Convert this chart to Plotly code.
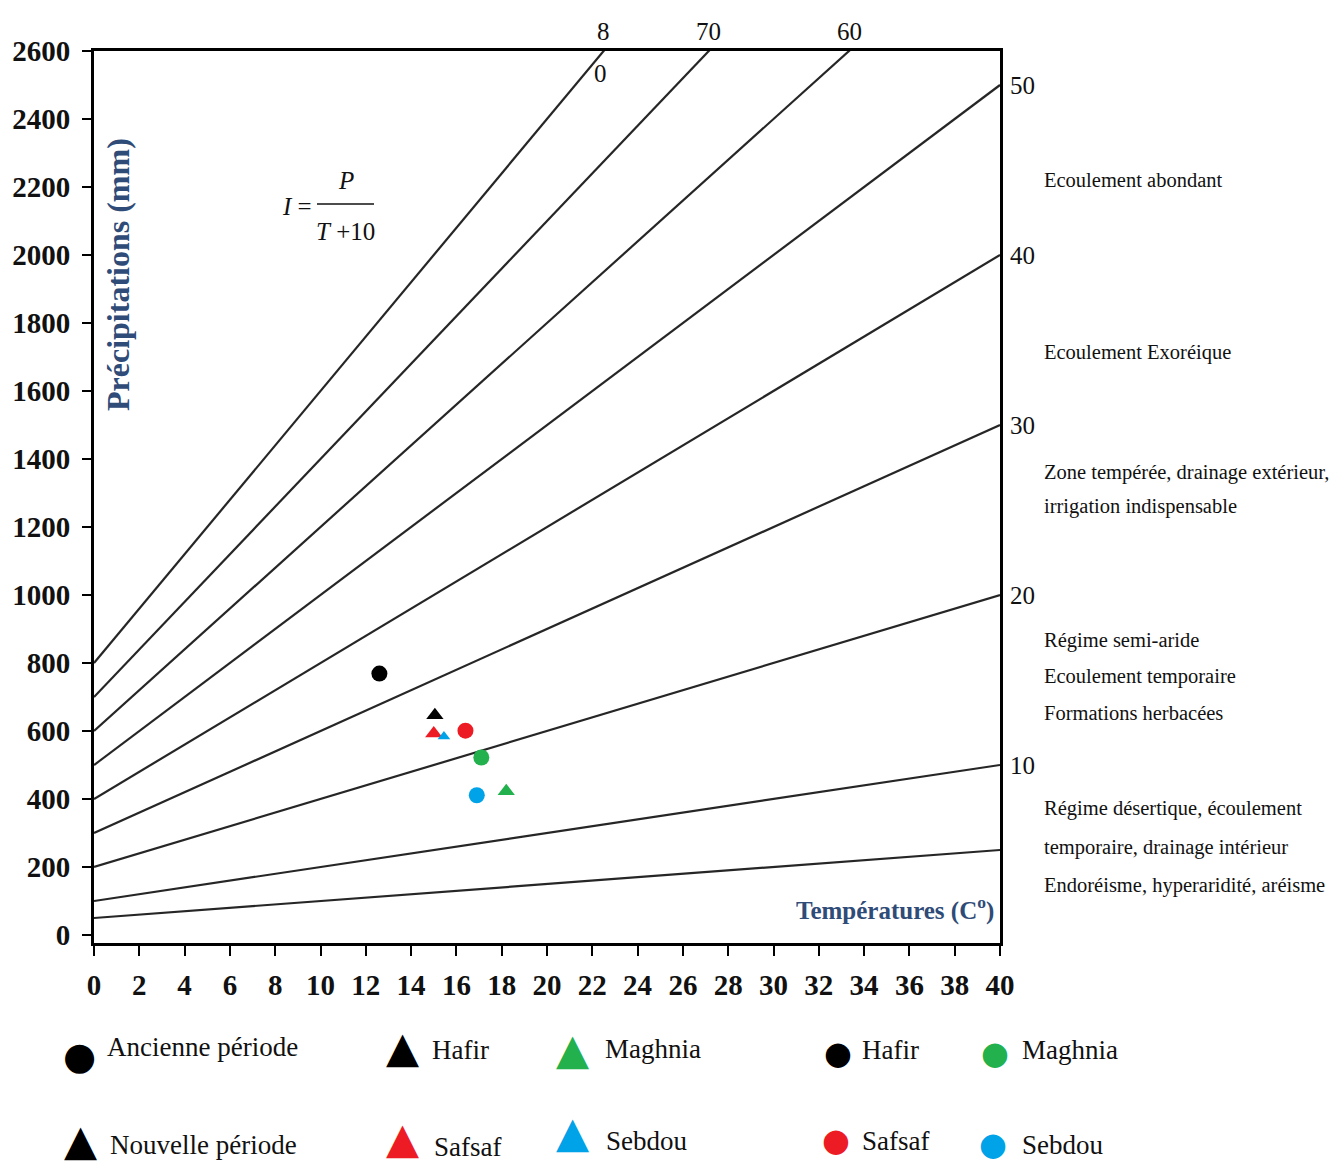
import plotly.graph_objects as go

# De Martonne aridity index I = P / (T + 10): iso-lines and station values
INDEX_LEVELS = [5, 10, 20, 30, 40, 50, 60, 70, 80]
T_RANGE = [0, 40]
P_MAX = 2600

STATIONS = ["Hafir", "Safsaf", "Maghnia", "Sebdou"]
COLORS = ["#000000", "#ed1c24", "#22b14c", "#00a2e8"]

# Ancienne période (circles)
T_OLD = [12.6, 16.4, 17.1, 16.9]
P_OLD = [769, 601, 522, 411]

# Nouvelle période (triangles)
T_NEW = [15.05, 15.0, 18.2, 15.45]
P_NEW = [646, 593, 423, 584]
NEW_SIZES = [15, 15, 15, 11]

X_TICKS = list(range(0, 41, 2))
Y_TICKS = list(range(0, 2601, 200))

RIGHT_LABELS = [50, 40, 30, 20, 10]
TOP_LABELS = [70, 60]

ZONE_TEXT = [
    (180, "Ecoulement abondant"),
    (352, "Ecoulement Exoréique"),
    (472, "Zone tempérée, drainage extérieur,"),
    (507, "irrigation indispensable"),
    (640, "Régime semi-aride"),
    (676, "Ecoulement temporaire"),
    (713, "Formations herbacées"),
    (808, "Régime désertique, écoulement"),
    (847, "temporaire, drainage intérieur"),
    (885, "Endoréisme, hyperaridité, aréisme"),
]

W, H = 1329, 1165
ML, MR, MT, MB = 94, 329, 51, 222
PW, PH = W - ML - MR, H - MT - MB

SERIF = "Liberation Serif"
TITLE_BLUE = "#2f4b78"


def px(x):
    return (x - ML) / PW


def py(y):
    return (H - MB - y) / PH


fig = go.Figure()

# iso-index lines
for lvl in INDEX_LEVELS:
    fig.add_trace(go.Scatter(
        x=T_RANGE, y=[lvl * (t + 10) for t in T_RANGE],
        mode="lines", line=dict(color="#262626", width=2.2),
        hoverinfo="skip", showlegend=False,
    ))

# station points
for name, col, t, p in zip(STATIONS, COLORS, T_OLD, P_OLD):
    fig.add_trace(go.Scatter(
        x=[t], y=[p], mode="markers", name=name + " (ancienne)",
        marker=dict(symbol="circle", size=16, color=col),
        showlegend=False,
    ))
for name, col, t, p, s in zip(STATIONS, COLORS, T_NEW, P_NEW, NEW_SIZES):
    fig.add_trace(go.Scatter(
        x=[t], y=[p], mode="markers", name=name + " (nouvelle)",
        marker=dict(symbol="triangle-up", size=s, color=col),
        showlegend=False,
    ))

ann = []

# index labels on the right edge
for lvl in RIGHT_LABELS:
    ann.append(dict(x=T_RANGE[1], y=lvl * (T_RANGE[1] + 10), xref="x", yref="y",
                    text=str(lvl), showarrow=False, xanchor="left", yanchor="middle",
                    xshift=8, font=dict(family=SERIF, size=25, color="#111")))

# index labels on the top edge
for lvl in TOP_LABELS:
    ann.append(dict(x=P_MAX / lvl - 10, y=P_MAX, xref="x", yref="y",
                    text=str(lvl), showarrow=False, xanchor="center", yanchor="bottom",
                    yshift=4, font=dict(family=SERIF, size=25, color="#111")))
# the 80 label is split by the frame
ann.append(dict(x=P_MAX / 80 - 10, y=P_MAX, xref="x", yref="y", text="8",
                showarrow=False, xanchor="center", yanchor="bottom", yshift=4,
                font=dict(family=SERIF, size=25, color="#111")))
ann.append(dict(x=P_MAX / 80 - 10, y=P_MAX, xref="x", yref="y", text="0",
                showarrow=False, xanchor="center", yanchor="top", yshift=-7, xshift=-3,
                font=dict(family=SERIF, size=25, color="#111")))

# zone descriptions
for y, txt in ZONE_TEXT:
    ann.append(dict(x=px(1042), y=py(y), xref="paper", yref="paper", text=txt,
                    showarrow=False, xanchor="left", yanchor="middle",
                    font=dict(family=SERIF, size=20.5, color="#111")))

# axis titles inside the frame
ann.append(dict(x=px(118), y=py(275), xref="paper", yref="paper",
                text="<b>Précipitations (mm)</b>", textangle=-90, showarrow=False,
                xanchor="center", yanchor="middle",
                font=dict(family=SERIF, size=32, color=TITLE_BLUE)))
ann.append(dict(x=px(996), y=py(908), xref="paper", yref="paper",
                text="<b>Températures (C<sup>o</sup>)</b>", showarrow=False,
                xanchor="right", yanchor="middle",
                font=dict(family=SERIF, size=25, color=TITLE_BLUE)))

# formula I = P / (T + 10)
ann.append(dict(x=px(297), y=py(206), xref="paper", yref="paper", text="<i>I</i> =",
                showarrow=False, xanchor="center", yanchor="middle",
                font=dict(family=SERIF, size=25, color="#111")))
ann.append(dict(x=px(346), y=py(181), xref="paper", yref="paper", text="<i>P</i>",
                showarrow=False, xanchor="center", yanchor="middle",
                font=dict(family=SERIF, size=25, color="#111")))
ann.append(dict(x=px(345), y=py(231), xref="paper", yref="paper", text="<i>T</i> +10",
                showarrow=False, xanchor="center", yanchor="middle",
                font=dict(family=SERIF, size=25, color="#111")))
shapes = [dict(type="line", xref="paper", yref="paper",
               x0=px(317), x1=px(374), y0=py(204), y1=py(204),
               line=dict(color="#111", width=1.5))]

# key below the chart
key = [
    (79, 1056, "●", "#000000", 38, 105, 1047, "Ancienne période"),
    (80, 1140, "▲", "#000000", 43, 108, 1145, "Nouvelle période"),
    (402, 1047, "▲", COLORS[0], 43, 430, 1050, "Hafir"),
    (402, 1138, "▲", COLORS[1], 43, 432, 1147, "Safsaf"),
    (572, 1049, "▲", COLORS[2], 43, 603, 1049, "Maghnia"),
    (572, 1132, "▲", COLORS[3], 43, 604, 1141, "Sebdou"),
    (838, 1053, "●", COLORS[0], 32, 860, 1050, "Hafir"),
    (836, 1140, "●", COLORS[1], 32, 860, 1141, "Safsaf"),
    (995, 1053, "●", COLORS[2], 32, 1020, 1050, "Maghnia"),
    (993, 1144, "●", COLORS[3], 32, 1020, 1145, "Sebdou"),
]
for gx, gy, glyph, col, gs, tx, ty, label in key:
    ann.append(dict(x=px(gx), y=py(gy), xref="paper", yref="paper", text=glyph,
                    showarrow=False, xanchor="center", yanchor="middle",
                    font=dict(family="DejaVu Sans", size=gs, color=col)))
    ann.append(dict(x=px(tx), y=py(ty), xref="paper", yref="paper", text=label,
                    showarrow=False, xanchor="left", yanchor="middle",
                    font=dict(family=SERIF, size=27, color="#111")))

fig.update_layout(
    width=W, height=H,
    margin=dict(l=ML, r=MR, t=MT, b=MB),
    paper_bgcolor="white", plot_bgcolor="white",
    showlegend=False,
    annotations=ann, shapes=shapes,
    xaxis=dict(range=T_RANGE, tickvals=X_TICKS, showgrid=False, zeroline=False,
               showline=True, linecolor="black", linewidth=3, mirror=True,
               ticks="outside", ticklen=10, tickwidth=2, tickcolor="black",
               ticklabelstandoff=4,
               tickfont=dict(family=SERIF, size=29, color="#111", weight="bold")),
    yaxis=dict(range=[-23.5, P_MAX], tickvals=Y_TICKS, showgrid=False, zeroline=False,
               showline=True, linecolor="black", linewidth=3, mirror=True,
               ticks="outside", ticklen=9, tickwidth=2, tickcolor="black",
               ticklabelstandoff=6,
               tickfont=dict(family=SERIF, size=29, color="#111", weight="bold")),
)

fig.write_html("out.html")
